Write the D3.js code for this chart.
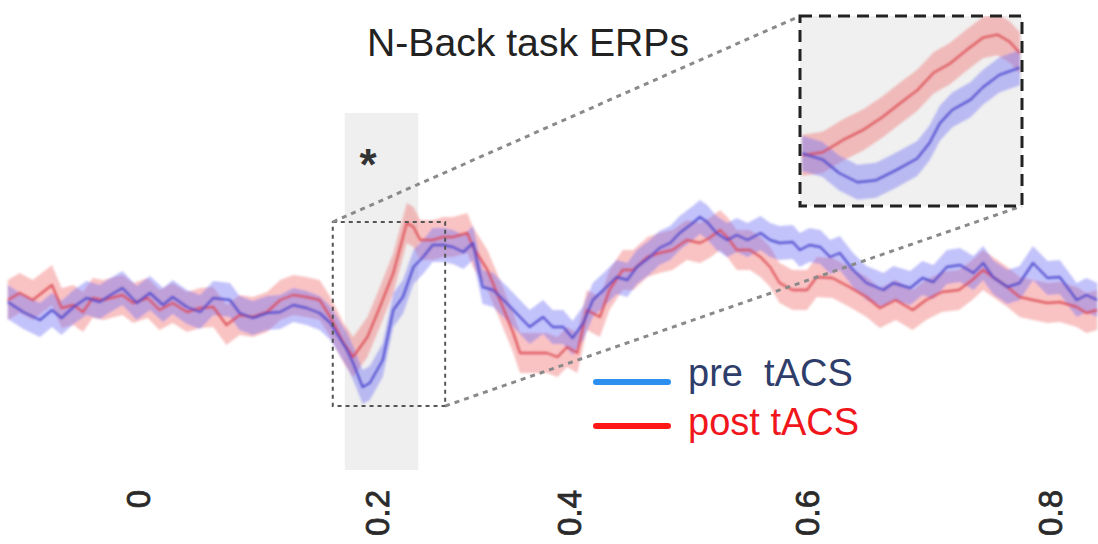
<!DOCTYPE html>
<html>
<head>
<meta charset="utf-8">
<script src="https://cdn.jsdelivr.net/npm/d3@7"></script>
<style>
  html, body { margin: 0; padding: 0; background: #fff; }
  svg { display: block; }
  text { font-family: "Liberation Sans", Arial, Helvetica, sans-serif; }
</style>
</head>
<body>
<svg id="chart" width="1098" height="544"></svg>
<script>
// ---------------- data ----------------
const title = "N-Back task ERPs";
const seriesNames = ["pre  tACS", "post tACS"];
const tickValues = [0, 0.2, 0.4, 0.6, 0.8];
const tickLabels = ["0", "0.2", "0.4", "0.6", "0.8"];

// time in ms, amplitude in a.u.
const preTime = [-109,-96,-82,-72,-64,-54,-43,-32,-23,-13,-1,10,21,29,41,52,63,77,85,96,108,119,130,141,152,161,175,180,188,194,206,217,227,238,248,258,269,279,290,300,310,321,335,349,359,373,383,394,403,412,420,429,440,449,457,468,476,485,493,504,510,516,524,533,541,550,561,569,577,588,594,602,611,619,627,638,649,663,671,685,695,704,715,726,737,745,753,765,775,786,798,808,822,830,839];
const preMean = [-0.2,-1.2,-2.0,-1.0,-1.8,-0.7,0.2,-0.2,0.5,1.2,-0.3,0.7,-0.5,0.3,-0.7,-1.2,0.2,0.0,-1.3,-1.8,-1.3,-1.2,-0.5,-0.8,-1.3,-2.3,-5.0,-6.3,-8.7,-8.3,-6.0,-1.0,0.3,3.3,4.3,5.5,5.5,5.3,4.8,5.7,1.3,1.0,-0.3,-1.7,-2.7,-1.7,-2.7,-2.7,-3.8,-2.3,0.0,1.0,2.3,2.0,3.3,4.3,5.2,5.7,6.7,7.7,8.3,7.8,6.7,6.0,6.5,6.0,6.7,6.0,5.7,5.8,5.0,5.5,5.3,4.3,4.7,3.0,1.7,1.0,1.7,1.2,2.2,1.8,3.3,3.5,2.7,3.7,2.3,1.3,1.7,3.7,2.2,2.3,0.0,0.5,0.0];
const postTime = [-109,-99,-88,-72,-64,-54,-46,-38,-29,-13,-4,8,18,29,41,52,63,74,85,96,108,119,130,141,152,161,172,180,192,203,217,231,238,245,258,269,279,294,300,315,328,342,349,363,377,388,398,407,415,426,434,445,454,466,476,487,499,510,518,527,533,541,552,561,569,577,588,600,608,621,635,649,660,673,687,698,711,725,736,745,753,765,775,786,798,808,822,830,839];
const postMean = [0.0,0.7,0.0,1.5,-0.8,-0.5,-1.2,0.2,0.0,0.5,-0.3,0.2,-1.0,-0.3,-1.2,-0.8,-0.7,-2.5,-1.5,-1.7,-1.2,0.0,0.5,0.3,0.0,-1.7,-4.3,-5.7,-3.7,-0.7,2.7,7.7,7.3,6.0,6.0,6.3,6.3,6.7,5.3,3.0,0.0,-3.3,-5.3,-5.3,-5.3,-5.7,-4.7,-5.3,-1.0,-1.7,1.0,3.0,3.0,4.3,4.7,5.0,6.0,5.7,6.2,7.0,6.3,5.0,5.0,4.3,3.3,1.7,1.0,1.0,2.3,2.2,1.3,0.3,-0.8,0.0,-1.0,0.0,0.8,1.0,2.0,3.0,2.3,1.3,0.3,0.0,-0.3,-0.2,-0.7,-1.3,-1.0];
const preSem = 1.7;
const postSem = 2.0;

// magnified inset
const insetPreTime = [164,174,182,191,200,210,220,226,231,237,246,252,260,270];
const insetPreMean = [-5.5,-6.1,-7.4,-8.3,-8.1,-7.1,-6.0,-4.5,-2.6,-1.3,-0.3,0.9,2.1,2.8];
const insetPostTime = [164,174,184,194,203,212,220,228,236,244,252,259,265,270];
const insetPostMean = [-5.7,-5.4,-4.2,-3.2,-2.0,-0.6,0.6,2.3,3.2,4.5,5.7,6.0,5.3,4.2];

// windows (ms / amplitude)
const sigWindow = [173, 243];
const zoomTime = [163, 271];
const zoomAmp = [-10.6, 7.8];

// ---------------- drawing ----------------
const svg = d3.select("#chart");
const W = 1098, H = 544;
svg.append("rect").attr("width", W).attr("height", H).attr("fill", "#fff");

const defs = svg.append("defs");
defs.append("filter").attr("id", "soft").attr("x", "-5%").attr("y", "-5%").attr("width", "110%").attr("height", "110%")
  .append("feGaussianBlur").attr("stdDeviation", 0.9);

// x scale: seconds -> pixels (tick positions as in the figure)
const x = d3.scaleLinear().domain(tickValues).range([138, 377, 569, 807, 1050]);
const xs = ms => x(ms / 1000);
const y = d3.scaleLinear().domain([-30, 30]).range([600, 0]);

const colPreLine = "#4845cc", colPostLine = "#dc4a52";
const colPreBand = "rgb(112,112,245)", colPostBand = "rgb(240,112,112)";

// significance shading
svg.append("rect")
  .attr("x", xs(sigWindow[0])).attr("width", xs(sigWindow[1]) - xs(sigWindow[0]))
  .attr("y", 113).attr("height", 470 - 113)
  .attr("fill", "#efefef");

svg.append("text").attr("x", x(0.2) - 9).attr("y", 180)
  .attr("text-anchor", "middle").attr("font-size", 44).attr("font-weight", "bold")
  .attr("fill", "#333").text("*");

function drawSeries(g, xsc, ysc, times, means, sem, band, line) {
  const pts = times.map((t, i) => ({ t, v: means[i] }));
  g.append("path").datum(pts)
    .attr("d", d3.area().x(d => xsc(d.t)).y0(d => ysc(d.v - sem)).y1(d => ysc(d.v + sem)))
    .attr("fill", band).attr("fill-opacity", 0.42);
  return () => g.append("path").datum(pts)
    .attr("d", d3.line().x(d => xsc(d.t)).y(d => ysc(d.v)))
    .attr("fill", "none").attr("stroke", line).attr("stroke-width", 2.4)
    .attr("stroke-opacity", 0.85).attr("stroke-linejoin", "round");
}

const gMain = svg.append("g").attr("filter", "url(#soft)");
const l1 = drawSeries(gMain, xs, y, postTime, postMean, postSem, colPostBand, colPostLine);
const l2 = drawSeries(gMain, xs, y, preTime, preMean, preSem, colPreBand, colPreLine);
l1(); l2();

// zoom rectangle
const zx0 = xs(zoomTime[0]), zx1 = xs(zoomTime[1]);
const zy0 = y(zoomAmp[1]), zy1 = y(zoomAmp[0]);
svg.append("rect").attr("x", zx0).attr("y", zy0).attr("width", zx1 - zx0).attr("height", zy1 - zy0)
  .attr("fill", "none").attr("stroke", "#555").attr("stroke-width", 2).attr("stroke-dasharray", "4,4");

// inset
const ix0 = 800, ix1 = 1022, iy0 = 16, iy1 = 206;
const xi = d3.scaleLinear().domain(zoomTime).range([ix0, ix1]);
const yi = d3.scaleLinear().domain(zoomAmp).range([iy1, iy0]);

// connectors
svg.append("line").attr("x1", zx0).attr("y1", zy0).attr("x2", ix0).attr("y2", iy0)
  .attr("stroke", "#8a8a8a").attr("stroke-width", 3).attr("stroke-dasharray", "5,5");
svg.append("line").attr("x1", zx1).attr("y1", zy1).attr("x2", ix1).attr("y2", iy1)
  .attr("stroke", "#8a8a8a").attr("stroke-width", 3).attr("stroke-dasharray", "5,5");

defs.append("clipPath").attr("id", "insetClip")
  .append("rect").attr("x", ix0).attr("y", iy0).attr("width", ix1 - ix0).attr("height", iy1 - iy0);
svg.append("rect").attr("x", ix0).attr("y", iy0).attr("width", ix1 - ix0).attr("height", iy1 - iy0)
  .attr("fill", "#f0f0f0");
const gIn = svg.append("g").attr("clip-path", "url(#insetClip)").append("g").attr("filter", "url(#soft)");
const i1 = drawSeries(gIn, xi, yi, insetPostTime, insetPostMean, postSem, colPostBand, colPostLine);
const i2 = drawSeries(gIn, xi, yi, insetPreTime, insetPreMean, preSem, colPreBand, colPreLine);
i1(); i2();
svg.append("rect").attr("x", ix0).attr("y", iy0).attr("width", ix1 - ix0).attr("height", iy1 - iy0)
  .attr("fill", "none").attr("stroke", "#222").attr("stroke-width", 3).attr("stroke-dasharray", "12,7");

// title
svg.append("text").attr("x", 367).attr("y", 56).attr("font-size", 38).attr("fill", "#222")
  .attr("textLength", 322).attr("lengthAdjust", "spacingAndGlyphs").text(title);

// legend
const legendColors = ["#2b8ff0", "#ff1717"];
const legendText = ["#2e3d6a", "#f0161c"];
const legendY = [382, 426];
seriesNames.forEach((name, i) => {
  svg.append("line").attr("x1", 596).attr("x2", 668).attr("y1", legendY[i]).attr("y2", legendY[i])
    .attr("stroke", legendColors[i]).attr("stroke-width", 6).attr("stroke-linecap", "round");
  svg.append("text").attr("x", 688).attr("y", legendY[i] + 4 + i * 5)
    .attr("font-size", 38).attr("fill", legendText[i])
    .style("white-space", "pre").attr("xml:space", "preserve").text(name);
});

// x axis (rotated labels, no line/ticks)
const axis = d3.axisBottom(x).tickValues(tickValues).tickFormat((d, i) => tickLabels[i]).tickSize(0);
const gAx = svg.append("g").attr("transform", "translate(0,490)").call(axis);
gAx.select(".domain").remove();
gAx.selectAll("text")
  .attr("transform", "rotate(-90)")
  .attr("x", 0).attr("y", 0).attr("dy", "0.36em")
  .attr("text-anchor", "end")
  .attr("font-size", 33).attr("font-family", "'Liberation Sans', Arial, sans-serif")
  .attr("fill", "#2a2a2a").attr("stroke", "#2a2a2a").attr("stroke-width", 0.8);
</script>
</body>
</html>
